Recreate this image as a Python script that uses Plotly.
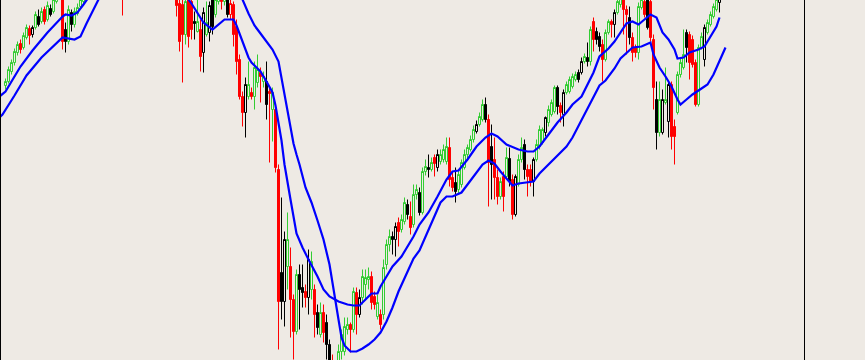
import plotly.graph_objects as go

# ---------------- data (price units) ----------------
BAR = list(range(239))

OPEN = [314,318,328,337,347,356,352,362,371,365,372,383,378,390,380,391,388,398,404,400,
        370,358,387,375,386,393,398,408,416,424,418,430,438,432,442,434,424,418,426,414,
        404,420,432,440,436,448,456,448,460,454,444,452,440,430,436,422,430,416,396,395,
        365,400,398,378,368,370,347,365,367,400,385,398,408,398,400,385,395,373,340,303,
        287,303,307,303,317,327,318,318,308,290,290,230,127,98,133,133,100,68,125,112,
        108,102,110,110,87,65,87,77,55,38,20,30,48,48,70,75,70,107,85,102,
        115,120,123,103,83,85,85,135,155,163,160,177,170,178,195,183,175,205,207,187,
        228,232,230,242,232,238,240,238,252,222,217,210,215,232,245,250,260,268,275,280,
        295,280,253,240,222,203,223,223,241,220,185,215,240,255,230,230,218,240,253,257,
        267,277,285,288,312,294,285,307,308,313,320,327,327,338,342,338,378,368,363,355,
        340,367,378,375,387,395,400,390,382,362,352,347,392,398,400,398,360,300,267,267,
        297,278,315,273,287,325,332,367,365,360,337,295,352,340,367,375,383,390,397]
HIGH = [321,333,340,351,358,360,367,375,374,374,388,390,392,393,398,395,405,412,418,408,
        377,394,390,392,396,404,412,420,428,427,434,442,442,446,445,437,428,430,429,418,
        424,436,444,446,452,460,459,464,465,457,456,455,444,440,439,434,433,420,402,405,
        406,404,403,388,400,380,392,398,398,405,406,412,412,410,405,400,398,380,345,308,
        322,338,312,338,345,332,328,338,312,312,295,235,202,168,187,152,105,130,135,135,
        115,150,148,115,95,97,95,85,60,45,38,55,70,82,82,77,112,112,110,130,
        130,132,128,108,105,90,140,160,170,168,177,182,185,202,200,198,215,215,212,232,
        240,245,242,245,250,250,255,262,262,228,232,230,240,250,255,264,274,279,287,300,
        302,285,275,262,230,222,228,252,252,225,225,245,262,260,235,235,242,260,274,272,
        283,294,300,314,314,297,310,318,323,326,328,330,342,346,357,373,382,372,367,360,
        370,380,380,390,402,406,404,394,393,367,355,397,404,402,404,402,365,318,318,310,
        332,317,318,280,328,342,370,370,368,364,340,355,367,375,380,388,396,403,406]
LOW = [310,316,325,334,344,346,350,360,355,362,370,373,376,375,378,383,386,396,402,350,
       347,355,368,372,384,391,396,405,413,412,415,427,428,429,430,420,414,414,408,384,
       400,417,429,432,433,445,444,445,450,440,440,436,426,426,418,418,410,383,348,317,
       355,352,360,360,367,328,327,363,358,365,382,395,390,394,382,380,353,325,300,273,
       262,300,300,290,312,297,312,280,237,258,227,50,80,73,110,62,40,65,70,92,
       92,85,100,62,65,62,57,40,20,10,8,25,40,44,65,47,67,65,82,95,
       100,110,90,90,80,70,80,130,148,145,143,153,167,175,180,165,172,200,184,185,
       224,222,228,223,228,235,237,235,213,208,197,205,212,230,240,248,257,266,273,278,
       277,193,200,200,195,200,188,220,213,180,183,213,237,220,203,213,203,238,250,255,
       263,273,283,286,285,277,273,305,306,311,318,317,325,336,333,334,348,355,348,318,
       338,365,362,362,385,392,365,345,355,338,342,340,390,382,370,358,290,250,263,265,
       295,262,250,235,285,322,330,337,320,332,293,293,350,333,365,373,381,388,387]
CLOSE = [318,330,337,348,355,350,364,372,364,372,385,375,388,378,394,385,400,408,414,358,
         358,390,375,388,392,400,408,416,424,418,430,438,432,442,434,424,418,426,414,404,
         420,432,440,436,448,456,448,460,454,444,452,440,430,436,422,430,416,394,358,365,
         398,363,370,376,378,343,387,377,394,373,400,408,398,405,385,396,365,338,303,287,
         315,315,303,332,330,323,323,295,306,307,232,98,98,160,160,100,68,125,110,107,
         102,140,138,85,72,87,67,55,35,22,32,48,65,73,75,70,108,85,102,123,
         122,123,97,95,97,75,132,155,163,160,173,168,180,197,185,172,205,210,187,228,
         233,230,237,236,245,245,250,253,220,212,208,225,237,245,252,260,270,275,283,295,
         280,237,235,222,203,218,203,242,218,185,223,240,252,230,223,218,240,255,270,270,
         282,290,297,312,293,287,307,315,320,323,325,320,338,343,338,370,360,360,353,340,
         367,378,375,387,398,403,390,385,362,347,347,393,400,385,372,362,312,267,300,300,
         300,315,263,263,325,337,345,352,337,335,295,352,363,372,377,385,393,400,402]
CANDLE_COLOR = ("gggggrggrk" "gkgrgkgggr" "kgkggggggr" "ggkgrrkgrr" "gggkggrgkr"
                "grrkrgrrrr" "grrkgrkgkk" "ggrgkrrrrr" "kgrggrgkrg" "rrkkgrrgkk"
                "rkgrkgrkkr" "gggggrgrkg" "ggrrgrgggk" "krggkrggkg" "gkgrkgggrr"
                "kggggggkgg" "krkrrgrgkr" "kggkrrkggg" "kgggkrkggg" "gkkgkgrkkr"
                "ggrkggrrkr" "rggrkrrkgk" "gkrrgggkrr" "rggkggggk")

# fast line (upper in rises, lower in falls)
LINE_A_X = [-2,0,3,5,9,14,19,20,22,24,26,27,30,35,40,45,50,55,59,61,62,66,69,73,76,77,79,81,82,85,
            87,89,90,91,92,93,94,95,97,99,101,104,106,108,111,114,116,118,120,122,124,125,127,129,
            132,133,136,138,141,144,147,149,151,154,157,160,162,164,167,171,174,176,178,181,184,
            187,189,192,194,196,198,201,203,205,207,209,211,213,215,217,219,221,223,224,226,228,
            231,233,235,237,238]
LINE_A_Y = [303,308,323,333,349,367,383,385,384,387,395,399,412,428,438,444,442,430,412,400,396,377,
            370,380,380,374,357,342,337,328,318,307,294,278,259,235,219,200,166,152,140,123,110,103,
            98,95,94,94,100,106,106,113,123,133,143,148,163,175,187,203,220,228,229,240,253,262,266,
            263,255,250,248,248,253,265,277,287,295,303,315,327,343,351,358,367,376,378,375,380,385,
            382,367,360,350,341,342,347,350,353,363,373,382]
# slow line
LINE_B_X = [-2,-1,3,7,12,16,19,23,25,27,29,31,35,40,45,50,55,60,65,70,75,79,81,83,85,87,89,91,92,93,
            94,95,96,97,98,100,102,104,106,108,109,110,111,112,113,115,117,119,121,123,125,127,129,
            131,134,136,138,141,143,145,147,149,152,154,157,159,161,163,165,167,169,171,174,176,178,
            182,185,187,189,192,194,196,198,200,203,205,207,209,212,215,216,218,220,222,224,225,227,
            229,232,234,236,238,240]
LINE_B_Y = [282,285,304,324,342,353,362,360,363,376,388,400,412,425,435,440,442,440,432,422,410,400,
            386,374,366,358,350,338,322,305,292,273,256,245,235,212,197,179,160,135,118,100,80,62,54,
            48,48,51,55,60,67,78,92,108,128,141,149,169,184,197,203,203,207,215,228,235,239,236,228,
            221,214,216,217,218,226,238,247,253,262,279,290,302,314,319,331,341,347,352,353,357,345,
            332,323,313,300,295,300,305,311,315,325,338,352]

# ---------------- styling ----------------
BG = "#EEEAE4"
PALETTE = {"g": "#32CD32", "r": "#FF0000", "k": "#000000"}
BLUE = "#0000FF"

fig = go.Figure()
for code, col in PALETTE.items():
    idx = [i for i, c in enumerate(CANDLE_COLOR) if c == code]
    fig.add_trace(go.Candlestick(
        x=[BAR[i] for i in idx],
        open=[OPEN[i] for i in idx], high=[HIGH[i] for i in idx],
        low=[LOW[i] for i in idx], close=[CLOSE[i] for i in idx],
        increasing=dict(line=dict(color=col, width=1), fillcolor=BG),
        decreasing=dict(line=dict(color=col, width=1), fillcolor=col),
        whiskerwidth=0, showlegend=False, hoverinfo="skip",
    ))

for xs, ys in ((LINE_A_X, LINE_A_Y), (LINE_B_X, LINE_B_Y)):
    fig.add_trace(go.Scatter(x=xs, y=ys, mode="lines",
                             line=dict(color=BLUE, width=2.2),
                             showlegend=False, hoverinfo="skip"))

PLOT_W = 865 - 1 - 61
X0 = -1.5  # puts bar centres on pixel centres (3 px per bar)
fig.update_layout(
    width=865, height=360,
    margin=dict(l=1, r=61, t=0, b=0),
    paper_bgcolor=BG, plot_bgcolor=BG,
    showlegend=False,
    boxgap=1 / 3, boxgroupgap=0, boxmode="overlay",
)
fig.update_xaxes(range=[X0, X0 + PLOT_W / 3], showgrid=False, zeroline=False,
                 showticklabels=False, ticks="", showline=False,
                 rangeslider=dict(visible=False))
fig.update_yaxes(range=[39.5, 399.5], showgrid=False, zeroline=False,
                 showticklabels=False, ticks="", showline=True, mirror=True,
                 linecolor="#000000", linewidth=1)

fig.write_html("out.html", config={"displayModeBar": False})
